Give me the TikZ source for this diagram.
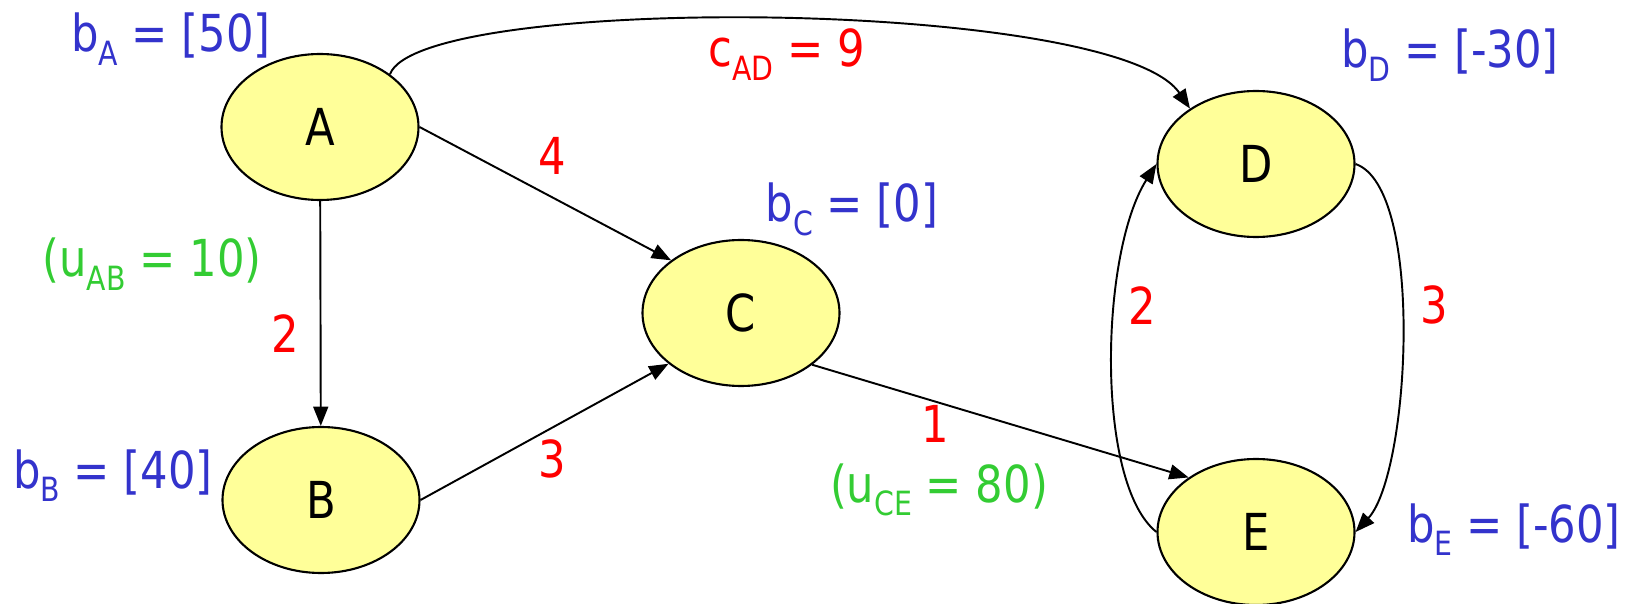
\documentclass[tikz,border=0pt]{standalone}
\usepackage{fontspec}
\setmainfont{DejaVu Sans}[FakeStretch=0.85]
\usetikzlibrary{arrows.meta,shapes.geometric}
\definecolor{nodefill}{RGB}{255,255,153}
\definecolor{supply}{RGB}{51,51,204}
\definecolor{cost}{RGB}{255,0,0}
\definecolor{capgreen}{RGB}{51,204,51}
\newcommand\sub[1]{\raisebox{-0.26em}{\fontsize{19}{22}\selectfont #1}}

\begin{document}
\begin{tikzpicture}[
  every node/.style={font=\fontsize{29}{34}\selectfont},
  vertex/.style={ellipse, draw, line width=1.2pt, fill=nodefill,
    minimum width=3.94cm, minimum height=2.92cm, inner sep=0pt},
  edge/.style={-{Triangle[length=11pt,width=8.5pt]}, line width=1.1pt},
  supplylabel/.style={text=supply, anchor=base},
  costlabel/.style={text=cost, anchor=base},
  caplabel/.style={text=capgreen, anchor=base}]
  \useasboundingbox (0,0) rectangle (32.64,12.06);
  % Nodes
  \node[vertex] (A) at (6.40,9.52) {A};
  \node[vertex] (B) at (6.42,2.06) {B};
  \node[vertex] (C) at (14.82,5.80) {C};
  \node[vertex] (D) at (25.12,8.78) {D};
  \node[vertex] (E) at (25.12,1.42) {E};
  % Arcs
  \draw[edge] (A) -- (B);
  \draw[edge] (A.east) -- (C.143);
  \draw[edge] (B.east) -- (C.215);
  \draw[edge] (C.-36) -- (E.141);
  \draw[edge] (A.37) .. controls (8.4,12.2) and (22.3,12.1) .. (D.140);
  \draw[edge] (E.west) .. controls (21.9,2.4) and (22.0,7.0) .. (D.west);
  \draw[edge] (D.east) .. controls (28.5,8.3) and (28.2,2.6) .. (E.east);
  % Supplies
  \node[supplylabel] (bA) at (3.42,11.02) {b\sub{A} = [50]};
  \node[supplylabel] (bB) at (2.26,2.30) {b\sub{B} = [40]};
  \node[supplylabel] (bC) at (17.04,7.62) {b\sub{C} = [0]};
  \node[supplylabel] (bD) at (29.00,10.70) {b\sub{D} = [-30]};
  \node[supplylabel] (bE) at (30.28,1.22) {b\sub{E} = [-60]};
  % Costs
  \node[costlabel] (cAD) at (15.74,10.72) {c\sub{AD} = 9};
  \node[costlabel] (cAC) at (11.04,8.56) {4};
  \node[costlabel] (cAB) at (5.70,5.00) {2};
  \node[costlabel] (cBC) at (11.04,2.52) {3};
  \node[costlabel] (cCE) at (18.70,3.20) {1};
  \node[costlabel] (cED) at (22.84,5.56) {2};
  \node[costlabel] (cDE) at (28.68,5.58) {3};
  % Capacities
  \node[caplabel] (uAB) at (3.04,6.52) {(u\sub{AB} = 10)};
  \node[caplabel] (uCE) at (18.78,2.02) {(u\sub{CE} = 80)};
\end{tikzpicture}
\end{document}
